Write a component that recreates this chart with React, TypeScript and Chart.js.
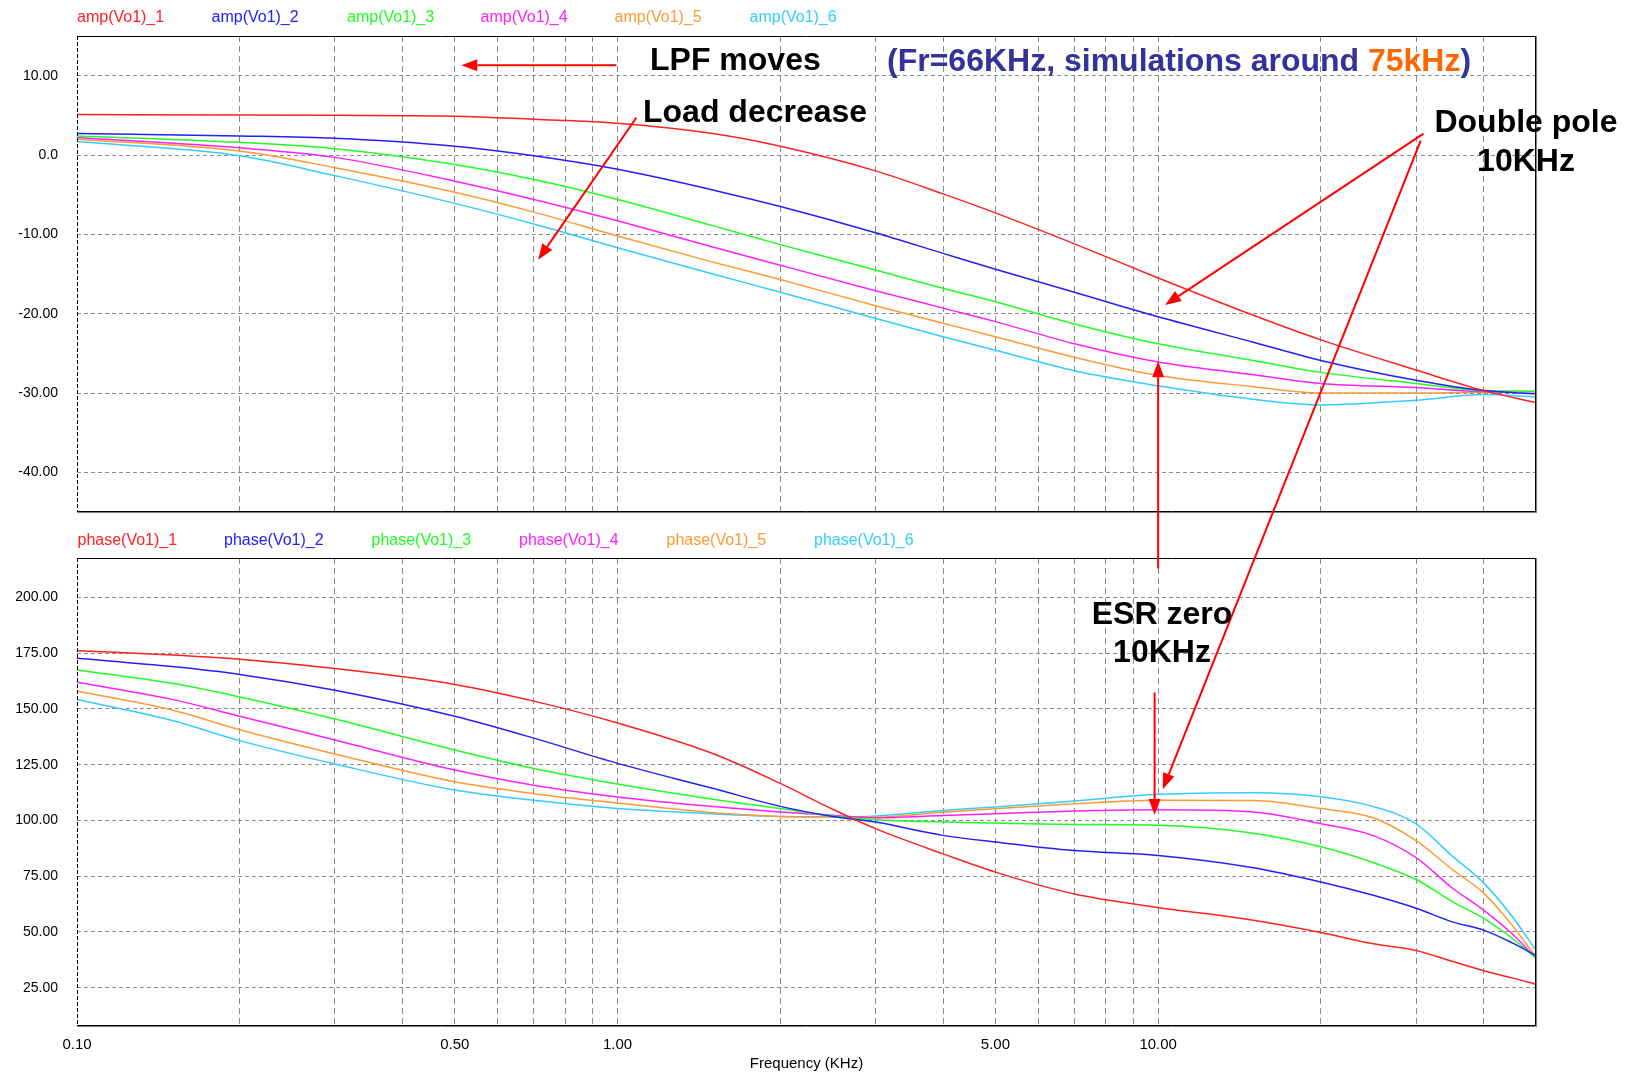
import React, { useEffect, useRef } from "react";
import { Chart, registerables } from "chart.js";

Chart.register(...registerables);

const FONT = "'Liberation Sans', Arial, Helvetica, sans-serif";

// ---------- data ----------
const ampFreq = [0.1, 0.2, 0.3, 0.5, 0.7, 1, 1.5, 2, 3, 4, 5, 7, 10, 15, 20, 30, 40, 50];
const amp1 = [5.1, 5.05, 5.0, 4.9, 4.5, 4.0, 2.7, 1.1, -2.0, -4.9, -7.3, -11.2, -15.5, -20.2, -23.3, -27.1, -29.7, -31.2];
const amp2 = [2.7, 2.4, 2.1, 1.1, -0.1, -1.8, -4.4, -6.5, -9.8, -12.4, -14.4, -17.3, -20.4, -23.6, -25.9, -28.4, -29.7, -30.1];
const amp3 = [2.4, 1.6, 0.8, -1.2, -3.1, -5.6, -8.9, -11.3, -14.5, -16.8, -18.5, -21.3, -23.8, -25.9, -27.4, -28.8, -29.7, -29.8];
const amp4 = [2.2, 0.9, -0.3, -3.3, -5.6, -8.3, -11.6, -13.9, -17.1, -19.3, -21.0, -23.8, -26.1, -27.7, -28.8, -29.3, -29.8, -29.8];
const amp5 = [2.0, 0.5, -1.6, -4.7, -7.2, -10.2, -13.5, -15.7, -19.0, -21.2, -22.9, -25.5, -27.8, -29.2, -30.0, -30.0, -29.9, -29.8];
const amp6 = [1.7, -0.1, -2.6, -6.1, -8.7, -11.7, -15.0, -17.3, -20.6, -22.9, -24.6, -27.2, -29.1, -30.8, -31.5, -30.9, -30.2, -30.5];

const phaseFreq = [0.1, 0.15, 0.2, 0.3, 0.5, 0.7, 1, 1.5, 2, 2.5, 3, 4, 5, 7, 10, 15, 20, 25, 30, 35, 40, 45, 50];
const phase1 = [176.1, 174.2, 172.3, 168.1, 161.0, 153.5, 143.7, 130.0, 116.6, 105.0, 96.3, 85.0, 76.8, 67.0, 61.0, 55.2, 49.7, 44.7, 41.7, 36.8, 32.6, 29.5, 26.5];
const phase2 = [172.7, 169.0, 165.5, 158.4, 146.7, 136.9, 125.6, 114.4, 106.3, 101.8, 99.3, 93.3, 90.3, 86.5, 84.3, 78.8, 72.4, 66.4, 60.6, 54.5, 50.8, 45.3, 39.4];
const phase3 = [167.5, 161.5, 155.4, 145.5, 131.6, 123.3, 116.3, 109.5, 105.3, 102.0, 100.3, 99.3, 98.8, 98.2, 97.8, 94.3, 88.2, 81.1, 73.5, 63.6, 56.1, 47.5, 38.2];
const phase4 = [162.0, 154.3, 146.7, 136.1, 122.6, 115.8, 110.5, 106.2, 103.8, 102.3, 101.2, 102.2, 103.0, 104.2, 104.8, 103.8, 98.5, 93.2, 83.3, 69.7, 59.8, 49.5, 38.2];
const phase5 = [158.0, 149.5, 140.7, 129.8, 117.3, 112.0, 107.8, 103.5, 101.8, 101.5, 101.5, 103.7, 105.2, 107.5, 109.0, 108.9, 105.3, 101.2, 90.9, 78.0, 67.4, 53.5, 38.6];
const phase6 = [154.2, 144.8, 135.8, 125.3, 113.6, 109.0, 105.3, 103.0, 101.8, 101.6, 102.0, 104.5, 106.0, 108.7, 111.7, 112.4, 110.6, 106.2, 98.5, 84.0, 72.0, 57.5, 41.7];

const ampSeries = [amp1, amp2, amp3, amp4, amp5, amp6];
const phaseSeries = [phase1, phase2, phase3, phase4, phase5, phase6];
const ampLegend = ["amp(Vo1)_1", "amp(Vo1)_2", "amp(Vo1)_3", "amp(Vo1)_4", "amp(Vo1)_5", "amp(Vo1)_6"];
const phaseLegend = ["phase(Vo1)_1", "phase(Vo1)_2", "phase(Vo1)_3", "phase(Vo1)_4", "phase(Vo1)_5", "phase(Vo1)_6"];
const seriesColors = ["#ff2020", "#2020ff", "#20ff20", "#ff20ff", "#ff9933", "#33ccff"];

const freqGridTicks = [0.1, 0.2, 0.3, 0.4, 0.5, 0.6, 0.7, 0.8, 0.9, 1, 2, 3, 4, 5, 6, 7, 8, 9, 10, 20, 30, 40, 50];
const freqLabelTicks = [0.1, 0.5, 1, 5, 10];
const ampTicks = [-40, -30, -20, -10, 0, 10];
const phaseTicks = [25, 50, 75, 100, 125, 150, 175, 200];

// annotation arrows in data space: [chart, freq, value]
const arrows = [
  { from: ["amp", 0.995, 11.3], to: ["amp", 0.514, 11.3] },
  { from: ["amp", 1.083, 4.7], to: ["amp", 0.713, -13.2] },
  { from: ["amp", 30.97, 2.7], to: ["amp", 10.3, -18.9] },
  { from: ["amp", 30.6, 1.8], to: ["phase", 10.2, 114] },
  { from: ["phase", 10.0, 213], to: ["amp", 10.0, -26.0] },
  { from: ["phase", 9.85, 157.4], to: ["phase", 9.85, 102.4] },
];

const TOP_CANVAS_Y = 0;
const BOTTOM_CANVAS_Y = 520;

const near = (v: number, list: number[]) => list.some((t) => Math.abs(t - v) < 1e-6 * Math.max(1, t));

const framePlugin = {
  id: "frame",
  afterDraw(chart: any) {
    const { ctx, chartArea } = chart;
    const { left, right, top, bottom } = chartArea;
    ctx.save();
    ctx.lineWidth = 1;
    ctx.strokeStyle = "#000";
    ctx.beginPath();
    ctx.moveTo(left, Math.round(top) + 0.5);
    ctx.lineTo(right, Math.round(top) + 0.5);
    ctx.stroke();
    ctx.beginPath();
    ctx.moveTo(Math.round(right) - 0.5, top);
    ctx.lineTo(Math.round(right) - 0.5, bottom);
    ctx.moveTo(left, Math.round(bottom) - 0.5);
    ctx.lineTo(right, Math.round(bottom) - 0.5);
    ctx.stroke();
    ctx.strokeStyle = "#808080";
    ctx.beginPath();
    ctx.moveTo(Math.round(right) + 0.5, top);
    ctx.lineTo(Math.round(right) + 0.5, bottom + 1);
    ctx.moveTo(left, Math.round(bottom) + 0.5);
    ctx.lineTo(right + 1, Math.round(bottom) + 0.5);
    ctx.stroke();
    ctx.strokeStyle = "#000";
    ctx.setLineDash([4, 2]);
    ctx.beginPath();
    ctx.moveTo(Math.round(left) + 0.5, top);
    ctx.lineTo(Math.round(left) + 0.5, bottom);
    ctx.stroke();
    ctx.restore();
  },
};

function makeDatasets(freq: number[], series: number[][], labels: string[]) {
  return series.map((vals, i) => ({
    label: labels[i],
    data: freq.map((f, j) => ({ x: f, y: vals[j] })),
    borderColor: seriesColors[i],
    backgroundColor: seriesColors[i],
    borderWidth: 1.5,
    pointRadius: 0,
    cubicInterpolationMode: "monotone" as const,
    fill: false,
  }));
}

function xScale(showLabels: boolean) {
  return {
    type: "logarithmic" as const,
    min: 0.1,
    max: 50,
    afterBuildTicks: (s: any) => {
      s.ticks = freqGridTicks.map((v) => ({ value: v }));
    },
    afterFit: (s: any) => {
      s.height = showLabels ? 51 : 0;
      s.paddingLeft = 0;
      s.paddingRight = 0;
    },
    ticks: {
      display: showLabels,
      autoSkip: false,
      maxRotation: 0,
      padding: 10,
      color: "#000",
      font: { family: FONT, size: 15 },
      callback: (v: any) => (near(Number(v), freqLabelTicks) ? Number(v).toFixed(2) : ""),
    },
    title: {
      display: showLabels,
      text: "Frequency (KHz)",
      color: "#000",
      font: { family: FONT, size: 15 },
      padding: { top: 0, bottom: 4 },
    },
    grid: {
      drawTicks: false,
      lineWidth: 1,
      color: (c: any) => {
        const v = c.tick ? c.tick.value : 0;
        return v <= 0.1001 || v >= 49.99 ? "rgba(0,0,0,0)" : "#8a8a8a";
      },
    },
    border: { display: false, dash: [6, 4] },
  };
}

function yScale(min: number, max: number, ticks: number[], fmt: (v: number) => string) {
  return {
    type: "linear" as const,
    min,
    max,
    afterBuildTicks: (s: any) => {
      s.ticks = ticks.map((v) => ({ value: v }));
    },
    afterFit: (s: any) => {
      s.width = 77;
      s.paddingTop = 0;
      s.paddingBottom = 0;
    },
    ticks: {
      padding: 19,
      color: "#000",
      font: { family: FONT, size: 14 },
      callback: (v: any) => fmt(Number(v)),
    },
    grid: { drawTicks: false, lineWidth: 1, color: "#8a8a8a" },
    border: { display: false, dash: [4, 3] },
  };
}

function baseOptions(padTop: number, padBottom: number, scales: any) {
  return {
    responsive: false,
    animation: false as const,
    devicePixelRatio: 1,
    layout: { padding: { top: padTop, right: 98, bottom: padBottom, left: 0 } },
    plugins: { legend: { display: false }, tooltip: { enabled: false } },
    events: [],
    scales,
  };
}

function drawArrow(ctx: CanvasRenderingContext2D, x1: number, y1: number, x2: number, y2: number) {
  const headLen = 16;
  const headW = 12;
  const ang = Math.atan2(y2 - y1, x2 - x1);
  const bx = x2 - headLen * Math.cos(ang);
  const by = y2 - headLen * Math.sin(ang);
  ctx.beginPath();
  ctx.moveTo(x1, y1);
  ctx.lineTo(bx, by);
  ctx.stroke();
  ctx.beginPath();
  ctx.moveTo(x2, y2);
  ctx.lineTo(bx + (headW / 2) * Math.sin(ang), by - (headW / 2) * Math.cos(ang));
  ctx.lineTo(bx - (headW / 2) * Math.sin(ang), by + (headW / 2) * Math.cos(ang));
  ctx.closePath();
  ctx.fill();
}

const boldText: React.CSSProperties = {
  position: "absolute",
  font: `bold 32px ${FONT}`,
  lineHeight: "32px",
  whiteSpace: "nowrap",
  color: "#000",
};

export default function App() {
  const ampRef = useRef<HTMLCanvasElement>(null);
  const phaseRef = useRef<HTMLCanvasElement>(null);
  const overlayRef = useRef<HTMLCanvasElement>(null);

  useEffect(() => {
    const ampChart = new Chart(ampRef.current!, {
      type: "line",
      data: { datasets: makeDatasets(ampFreq, ampSeries, ampLegend) as any },
      options: baseOptions(36, 4, {
        x: xScale(false),
        y: yScale(-45, 15, ampTicks, (v) => (v === 0 ? "0.0" : v.toFixed(2))),
      }) as any,
      plugins: [framePlugin],
    });
    const phaseChart = new Chart(phaseRef.current!, {
      type: "line",
      data: { datasets: makeDatasets(phaseFreq, phaseSeries, phaseLegend) as any },
      options: baseOptions(38, 0, {
        x: xScale(true),
        y: yScale(7.8, 217.7, phaseTicks, (v) => v.toFixed(2)),
      }) as any,
      plugins: [framePlugin],
    });

    const ov = overlayRef.current!;
    const ctx = ov.getContext("2d")!;
    ctx.clearRect(0, 0, ov.width, ov.height);
    const toPx = (p: any[]) => {
      const ch = p[0] === "amp" ? ampChart : phaseChart;
      const off = p[0] === "amp" ? TOP_CANVAS_Y : BOTTOM_CANVAS_Y;
      return [ch.scales.x.getPixelForValue(p[1]), ch.scales.y.getPixelForValue(p[2]) + off];
    };
    ctx.save();
    ctx.strokeStyle = "#ff0000";
    ctx.fillStyle = "#ff0000";
    ctx.lineWidth = 2;
    arrows.forEach((a) => {
      const [x1, y1] = toPx(a.from);
      const [x2, y2] = toPx(a.to);
      drawArrow(ctx, x1, y1, x2, y2);
    });
    ctx.restore();

    return () => {
      ampChart.destroy();
      phaseChart.destroy();
    };
  }, []);

  return (
    <div
      style={{
        position: "absolute",
        left: 0,
        top: 0,
        width: 1634,
        height: 1077,
        overflow: "hidden",
        background: "#fff",
        fontFamily: FONT,
      }}
    >
      <canvas ref={ampRef} width={1634} height={516} style={{ position: "absolute", left: 0, top: TOP_CANVAS_Y }} />
      <canvas ref={phaseRef} width={1634} height={557} style={{ position: "absolute", left: 0, top: BOTTOM_CANVAS_Y }} />
      <canvas
        ref={overlayRef}
        width={1634}
        height={1077}
        style={{ position: "absolute", left: 0, top: 0, pointerEvents: "none" }}
      />
      {ampLegend.map((t, i) => (
        <div
          key={t}
          style={{
            position: "absolute",
            left: [77, 211.5, 347, 480.5, 614.5, 749.5][i],
            top: 17 - 8,
            font: `16px ${FONT}`,
            lineHeight: "16px",
            color: seriesColors[i],
            whiteSpace: "nowrap",
          }}
        >
          {t}
        </div>
      ))}
      {phaseLegend.map((t, i) => (
        <div
          key={t}
          style={{
            position: "absolute",
            left: [77.5, 224, 371.5, 519, 666.5, 814][i],
            top: 540 - 8,
            font: `16px ${FONT}`,
            lineHeight: "16px",
            color: seriesColors[i],
            whiteSpace: "nowrap",
          }}
        >
          {t}
        </div>
      ))}
      <div style={{ ...boldText, left: 650, top: 59 - 16 }}>LPF moves</div>
      <div style={{ ...boldText, left: 887, top: 60 - 16, color: "#333399" }}>
        (Fr=66KHz, simulations around <span style={{ color: "#ff6600" }}>75kHz</span>)
      </div>
      <div style={{ ...boldText, left: 643, top: 110.5 - 16 }}>Load decrease</div>
      <div style={{ ...boldText, left: 1526, top: 121 - 16, transform: "translateX(-50%)" }}>Double pole</div>
      <div style={{ ...boldText, left: 1526, top: 159.5 - 16, transform: "translateX(-50%)" }}>10KHz</div>
      <div style={{ ...boldText, left: 1162, top: 613 - 16, transform: "translateX(-50%)" }}>ESR zero</div>
      <div style={{ ...boldText, left: 1162, top: 651 - 16, transform: "translateX(-50%)" }}>10KHz</div>
    </div>
  );
}
